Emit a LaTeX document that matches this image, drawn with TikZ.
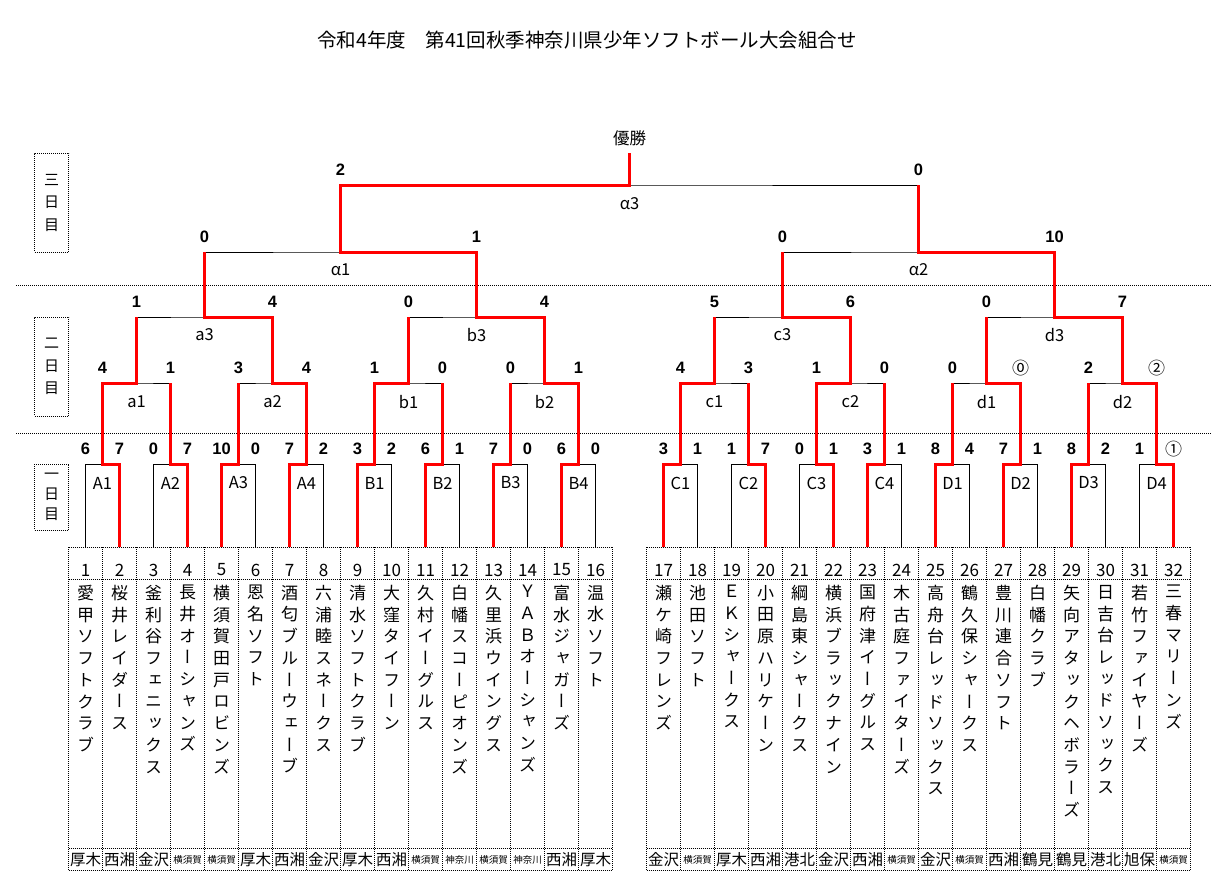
\documentclass[tikz,border=0pt]{standalone}
\usepackage{fontspec}
\setmainfont{Noto Sans CJK JP}
\newfontfamily\jpv{Noto Sans CJK JP}[RawFeature={+vert}]
\newfontfamily\scorefont{Liberation Sans}
\usetikzlibrary{calc}
\tikzstyle{bline}=[black, line width=1pt]
\tikzstyle{win}=[red, line width=3pt]
\tikzstyle{tabline}=[black, line width=0.8pt, dash pattern=on 1pt off 1pt]
\newcommand\sm[1]{{\fontsize{9.5}{10}\selectfont #1}}
\newcommand\cir[1]{{\normalfont\fontsize{17}{17}\selectfont #1}}
\def\vt#1{\ifx\relax#1\else#1\\\expandafter\vt\fi}

\begin{document}
\begin{tikzpicture}[x=1pt, y=-1pt,
    score/.style={font={\scorefont\bfseries\fontsize{16.5}{17}\selectfont}, inner sep=0},
    num/.style={font={\fontsize{17}{17}\selectfont}, inner sep=0},
    team/.style={font={\jpv\fontsize{17}{21.7}\selectfont}, align=center, anchor=north, inner sep=0},
    area/.style={font={\fontsize{15.5}{16}\selectfont}, inner sep=0},
    lab/.style={font={\fontsize{16.5}{17}\selectfont}, inner sep=0},
    daybox/.style={draw, line width=0.8pt, dash pattern=on 1pt off 1pt, minimum width=34, align=center, inner sep=0, font={\fontsize{15}{22.5}\selectfont}},
    ]
    \path[fill=white] (0,0) rectangle (1225,892);
    \useasboundingbox (0,0) rectangle (1225,892);

    %Title
    \node[font={\fontsize{19.5}{20}\selectfont}] (title) at (587,40) {令和4年度　第41回秋季神奈川県少年ソフトボール大会組合せ};

    %Days
    \node[daybox, minimum height=99] (day3) at (51.5,202.5) {三\\日\\目};
    \node[daybox, minimum height=99] (day2) at (51.5,366.5) {二\\日\\目};
    \node[daybox, minimum height=66, font={\fontsize{15}{20}\selectfont}] (day1) at (51.5,497) {一\\日\\目};
    \draw[tabline] (16,285) -- (1212,285);
    \draw[tabline] (16,433) -- (1212,433);

    %Table
    \foreach \bx in {68.5,646.5}{
      \foreach \j in {0,...,16}
        \draw[tabline] (\bx+34*\j,547) -- (\bx+34*\j,870);
      \foreach \yy in {547,579,848,870}
        \draw[tabline] (\bx,\yy) -- (\bx+544,\yy);
    }

    %Teams
    \foreach \i/\nm/\ar in {1/愛甲ソフトクラブ/厚木, 2/桜井レイダース/西湘, 3/釜利谷フェニックス/金沢, 4/長井オーシャンズ/\sm{横須賀},
      5/横須賀田戸ロビンズ/\sm{横須賀}, 6/恩名ソフト/厚木, 7/酒匂ブルーウェーブ/西湘, 8/六浦睦スネークス/金沢,
      9/清水ソフトクラブ/厚木, 10/大窪タイフーン/西湘, 11/久村イーグルス/\sm{横須賀}, 12/白幡スコーピオンズ/\sm{神奈川},
      13/久里浜ウイングス/\sm{横須賀}, 14/ＹＡＢオーシャンズ/\sm{神奈川}, 15/富水ジャガーズ/西湘, 16/温水ソフト/厚木,
      17/瀬ケ崎フレンズ/金沢, 18/池田ソフト/\sm{横須賀}, 19/ＥＫシャークス/厚木, 20/小田原ハリケーン/西湘,
      21/綱島東シャークス/港北, 22/横浜ブラックナイン/金沢, 23/国府津イーグルス/西湘, 24/木古庭ファイターズ/\sm{横須賀},
      25/高舟台レッドソックス/金沢, 26/鶴久保シャークス/\sm{横須賀}, 27/豊川連合ソフト/西湘, 28/白幡クラブ/鶴見,
      29/矢向アタックヘボラーズ/鶴見, 30/日吉台レッドソックス/港北, 31/若竹ファイヤーズ/旭保, 32/三春マリーンズ/\sm{横須賀}}{
      \pgfmathsetmacro\x{85.5+34*(\i-1)+34*(\i>16)}
      \coordinate (t\i) at (\x,547);
      \node[num] (num-\i) at (\x,570) {\i};
      \node[team] (name-\i) at (\x,585) {\expandafter\vt\nm\relax};
      \node[area] (area-\i) at (\x,860) {\ar};
    }

    %Matches
    \foreach \m/\l/\r in {A1/t1/t2, A2/t3/t4, A3/t5/t6, A4/t7/t8, B1/t9/t10, B2/t11/t12, B3/t13/t14, B4/t15/t16,
      C1/t17/t18, C2/t19/t20, C3/t21/t22, C4/t23/t24, D1/t25/t26, D2/t27/t28, D3/t29/t30, D4/t31/t32}{
      \coordinate (\m) at ($(\l)!0.5!(\r)+(0,-83)$);
      \draw[bline] (\l) |- (\m) -| (\r);
      \node[lab] (lab-\m) at ($(\m)+(0,19)$) {\m};
    }
    \foreach \m/\l/\r in {a1/A1/A2, a2/A3/A4, b1/B1/B2, b2/B3/B4, c1/C1/C2, c2/C3/C4, d1/D1/D2, d2/D3/D4}{
      \coordinate (\m) at ($(\l)!0.5!(\r)+(0,-81)$);
      \draw[bline] (\l) |- (\m) -| (\r);
      \node[lab] (lab-\m) at ($(\m)+(0,19)$) {\m};
    }
    \foreach \m/\l/\r in {a3/a1/a2, b3/b1/b2, c3/c1/c2, d3/d1/d2}{
      \coordinate (\m) at ($(\l)!0.5!(\r)+(0,-66)$);
      \draw[bline] (\l) |- (\m) -| (\r);
      \node[lab] (lab-\m) at ($(\m)+(0,18)$) {\m};
    }
    \foreach \m/\l/\r/\t in {al1/a3/b3/α1, al2/c3/d3/α2}{
      \coordinate (\m) at ($(\l)!0.5!(\r)+(0,-65)$);
      \draw[bline] (\l) |- (\m) -| (\r);
      \node[lab] (lab-\m) at ($(\m)+(0,18)$) {\t};
    }
    \coordinate (al3) at ($(al1)!0.5!(al2)+(0,-67)$);
    \draw[bline] (al1) |- (al3) -| (al2);
    \node[lab] (lab-al3) at ($(al3)+(0,19)$) {α3};
    \coordinate (top) at ($(al3)+(0,-32)$);
    \node[lab] (champ) at ($(top)+(0,-15)$) {優勝};

    %Winners
    \foreach \w/\m/\p in {t2/A1/a1, t4/A2/a1, t5/A3/a2, t7/A4/a2, t9/B1/b1, t11/B2/b1, t13/B3/b2, t15/B4/b2,
      t17/C1/c1, t20/C2/c1, t22/C3/c2, t23/C4/c2, t25/D1/d1, t27/D2/d1, t29/D3/d2, t32/D4/d2,
      A1/a1/a3, A4/a2/a3, B1/b1/b3, B4/b2/b3, C1/c1/c3, C3/c2/c3, D2/d1/d3, D4/d2/d3,
      a2/a3/al1, b2/b3/al1, c2/c3/al2, d2/d3/al2, b3/al1/al3, d3/al2/al3, al1/al3/top}
      \draw[win] (\w) |- (\m) -- (\m |- \p);

    %Scores
    \foreach \c/\m/\s in {t1/A1/6, t2/A1/7, t3/A2/0, t4/A2/7, t5/A3/10, t6/A3/0, t7/A4/7, t8/A4/2,
      t9/B1/3, t10/B1/2, t11/B2/6, t12/B2/1, t13/B3/7, t14/B3/0, t15/B4/6, t16/B4/0,
      t17/C1/3, t18/C1/1, t19/C2/1, t20/C2/7, t21/C3/0, t22/C3/1, t23/C4/3, t24/C4/1,
      t25/D1/8, t26/D1/4, t27/D2/7, t28/D2/1, t29/D3/8, t30/D3/2, t31/D4/1, t32/D4/\cir{①},
      A1/a1/4, A2/a1/1, A3/a2/3, A4/a2/4, B1/b1/1, B2/b1/0, B3/b2/0, B4/b2/1,
      C1/c1/4, C2/c1/3, C3/c2/1, C4/c2/0, D1/d1/0, D2/d1/\cir{⓪}, D3/d2/2, D4/d2/\cir{②},
      a1/a3/1, a2/a3/4, b1/b3/0, b2/b3/4, c1/c3/5, c2/c3/6, d1/d3/0, d2/d3/7,
      a3/al1/0, b3/al1/1, c3/al2/0, d3/al2/10, al1/al3/2, al2/al3/0}
      \node[score] (s-\c) at ($(\c |- \m)+(0,-15)$) {\s};
\end{tikzpicture}
\end{document}
